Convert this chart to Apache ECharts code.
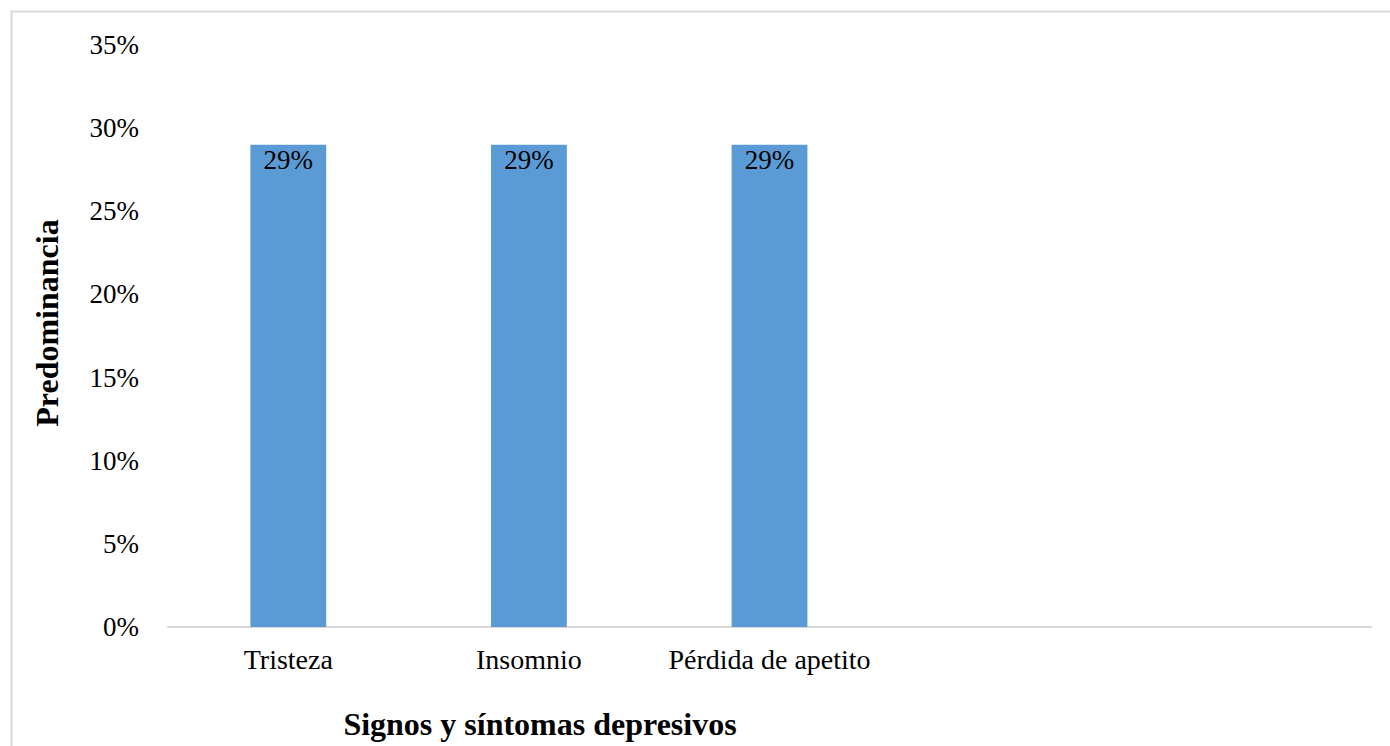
<!DOCTYPE html>
<html>
<head>
<meta charset="utf-8">
<script src="https://cdn.jsdelivr.net/npm/echarts@6/dist/echarts.min.js"></script>
<style>
  html, body { margin: 0; padding: 0; background: #fff; }
  #chart { width: 1390px; height: 746px; }
</style>
</head>
<body>
<div id="chart"></div>
<script>
"use strict"

const categories = ["Tristeza", "Insomnio", "Pérdida de apetito", "", ""]
const values = [0.29, 0.29, 0.29, null, null]
const yTicks = [0, 0.05, 0.1, 0.15, 0.2, 0.25, 0.3, 0.35]

const serif = "'Liberation Serif', 'Times New Roman', serif"
const pct = (v) => Math.round(v * 100) + "%"

const chart = echarts.init(document.getElementById("chart"), null, { renderer: "svg" })

chart.setOption({
  animation: false,
  grid: { left: 168, right: 19, top: 45, bottom: 119 },
  graphic: [
    {
      type: "rect",
      shape: { x: 11.5, y: 11.5, width: 1400, height: 760 },
      style: { fill: "none", stroke: "#d9d9d9", lineWidth: 2 },
    },
    {
      type: "text",
      x: 47, y: 323,
      rotation: Math.PI / 2,
      style: {
        text: "Predominancia",
        font: "bold 32px " + serif,
        fill: "#000",
        align: "center",
        verticalAlign: "middle",
      },
    },
    {
      type: "text",
      x: 540, y: 724,
      style: {
        text: "Signos y síntomas depresivos",
        font: "bold 32px " + serif,
        fill: "#000",
        align: "center",
        verticalAlign: "middle",
      },
    },
  ],
  xAxis: {
    type: "category",
    data: categories,
    axisLine: { lineStyle: { color: "#d9d9d9", width: 2 } },
    axisTick: { show: false },
    axisLabel: {
      color: "#000",
      fontFamily: serif,
      fontSize: 28,
      margin: 18,
      interval: 0,
      hideOverlap: false,
    },
  },
  yAxis: {
    type: "value",
    min: 0,
    max: yTicks[yTicks.length - 1],
    interval: 0.05,
    splitLine: { show: false },
    axisLine: { show: false },
    axisTick: { show: false },
    axisLabel: {
      color: "#000",
      fontFamily: serif,
      fontSize: 27,
      margin: 29,
      formatter: pct,
    },
  },
  series: [
    {
      type: "bar",
      data: values,
      barWidth: "31.5%",
      itemStyle: { color: "#5b9bd5" },
      label: {
        show: true,
        position: "insideTop",
        distance: 2,
        color: "#000",
        fontFamily: serif,
        fontSize: 27,
        formatter: (p) => pct(p.value),
      },
    },
  ],
})
</script>
</body>
</html>
